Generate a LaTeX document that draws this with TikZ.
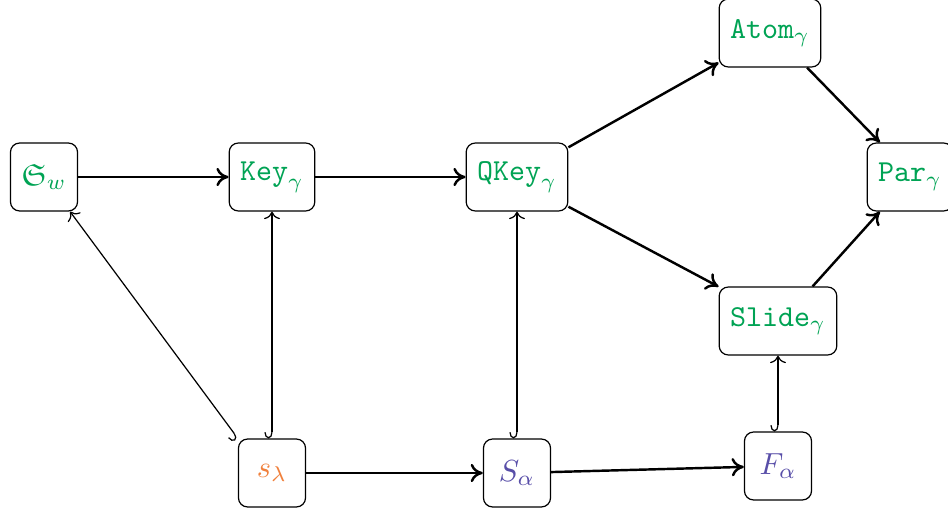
\documentclass[tikz,border=0pt]{standalone}
\usepackage{amsmath,amssymb}
\usetikzlibrary{arrows.meta}
\definecolor{polygreen}{RGB}{0,163,84}
\definecolor{schurorange}{RGB}{240,128,60}
\definecolor{basispurple}{RGB}{88,78,168}
\begin{document}
\begin{tikzpicture}[x=0.328pt,y=-0.328pt,
        box/.style={draw, rounded corners=3pt, minimum width=22pt, minimum height=22.3pt, inner xsep=3.6pt},
        main/.style={->, thick, >={Computer Modern Rightarrow[length=4pt,width=6pt]}},
        incl/.style={{Hooks[right,length=2pt,width=5pt]}->, >={Computer Modern Rightarrow}}]
            \useasboundingbox (0,0) rectangle (948,512);

            \node[box, text=polygreen] (Schub) at (44,177) {$\mathfrak{S}_w$};
            \node[box, text=polygreen] (Key) at (272,177) {$\texttt{Key}_\gamma$};
            \node[box, text=polygreen] (QKey) at (517,177) {$\texttt{QKey}_\gamma$};
            \node[box, text=polygreen] (Atom) at (770,33) {$\texttt{Atom}_\gamma$};
            \node[box, text=polygreen] (Par) at (910,177) {$\texttt{Par}_\gamma$};
            \node[box, text=polygreen] (Slide) at (778,321) {$\texttt{Slide}_\gamma$};
            \node[box, text=schurorange] (Schur) at (272,473) {$s_\lambda$};
            \node[box, text=basispurple] (Demaz) at (517,473) {$S_\alpha$};
            \node[box, text=basispurple] (Fund) at (778,466) {$F_\alpha$};

            \draw (Schub) edge[main] (Key);
            \draw (Key) edge[main] (QKey);
            \draw (QKey.30) edge[main] (Atom.210);
            \draw (QKey.-30) edge[main] (Slide.150);
            \draw (Atom.-43) edge[main] (Par.131);
            \draw (Slide.45) edge[main] (Par.-131);
            \draw (Schur) edge[main] (Demaz);
            \draw (Demaz) edge[main] (Fund);

            \draw (Schur.north west) edge[incl] (Schub.-53);
            \draw (Schur) edge[incl] (Key);
            \draw (Demaz) edge[incl] (QKey);
            \draw (Fund) edge[incl] (Slide);
        \end{tikzpicture}
\end{document}
